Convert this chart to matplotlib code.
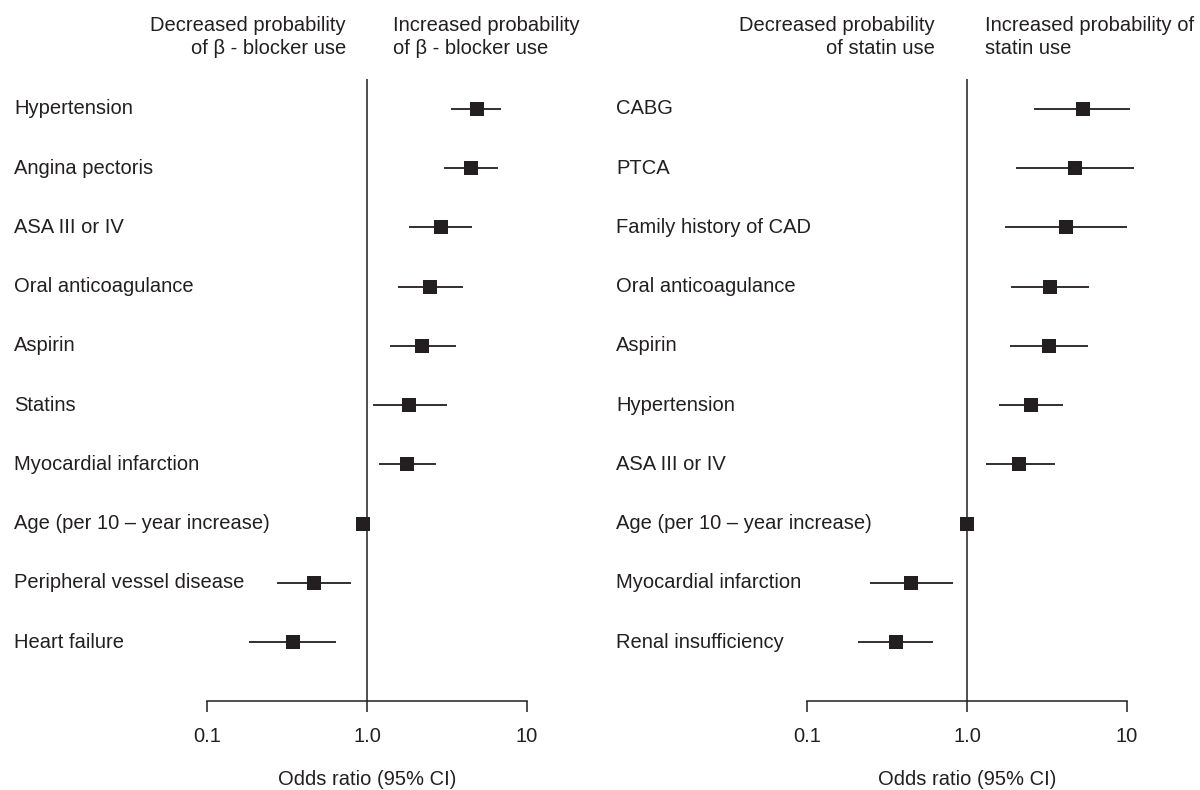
import matplotlib
matplotlib.use("Agg")
import matplotlib.pyplot as plt
import numpy as np

plt.rcParams['font.family'] = ['Liberation Sans', 'DejaVu Sans']

# Left panel: beta-blocker use
bb_labels = ["Hypertension", "Angina pectoris", "ASA III or IV", "Oral anticoagulance",
             "Aspirin", "Statins", "Myocardial infarction", "Age (per 10 – year increase)",
             "Peripheral vessel disease", "Heart failure"]
bb_or = [4.86, 4.48, 2.89, 2.49, 2.22, 1.84, 1.79, 0.94, 0.465, 0.344]
bb_lo = [3.36, 3.02, 1.82, 1.57, 1.39, 1.09, 1.19, 0.90, 0.272, 0.182]
bb_hi = [6.92, 6.61, 4.50, 3.99, 3.59, 3.15, 2.68, 0.98, 0.80, 0.642]

# Right panel: statin use
st_labels = ["CABG", "PTCA", "Family history of CAD", "Oral anticoagulance", "Aspirin",
             "Hypertension", "ASA III or IV", "Age (per 10 – year increase)",
             "Myocardial infarction", "Renal insufficiency"]
st_or = [5.29, 4.73, 4.14, 3.32, 3.27, 2.51, 2.11, 1.00, 0.447, 0.358]
st_lo = [2.62, 2.02, 1.72, 1.88, 1.87, 1.58, 1.31, 0.97, 0.246, 0.209]
st_hi = [10.4, 11.1, 9.95, 5.79, 5.68, 3.98, 3.55, 1.03, 0.82, 0.61]

tick_vals = [0.1, 1.0, 10]
tick_labels = ["0.1", "1.0", "10"]

W, H = 1200, 790
fig = plt.figure(figsize=(12, 7.9), dpi=100)
col = "#231f20"
fs = 14.5


def panel(x0px, labels, ors, los, his, label_x, hdr_left, hdr_right, hdr_lx, hdr_rx):
    left = x0px / W
    width = 320 / W
    bottom = 1 - 701 / H
    top = 1 - 79 / H
    ax = fig.add_axes([left, bottom, width, top - bottom])
    ax.set_xscale('log')
    ax.set_xlim(0.1, 10)
    n = len(labels)
    ax.set_ylim(n - 0.005, -0.506)
    ys = np.arange(n)
    for s in ['top', 'right', 'left']:
        ax.spines[s].set_visible(False)
    ax.spines['bottom'].set_color(col)
    ax.spines['bottom'].set_linewidth(1.1)
    ax.axvline(1.0, color=col, lw=1.1, zorder=1)
    ors = np.array(ors); los = np.array(los); his = np.array(his)
    ax.hlines(ys, los, his, color=col, lw=1.3, zorder=2, clip_on=False)
    ax.plot(ors, ys, 's', color=col, markersize=10.6, zorder=3, markeredgewidth=0, clip_on=False)
    ax.set_yticks([])
    ax.set_xticks(tick_vals)
    ax.set_xticklabels(tick_labels, fontsize=fs, color=col)
    ax.xaxis.set_minor_locator(matplotlib.ticker.NullLocator())
    ax.tick_params(axis='x', direction='out', length=8, width=1.1, color=col, pad=11)
    ax.set_xlabel("Odds ratio (95% CI)", fontsize=fs, color=col, labelpad=17)
    for y, lab in zip(ys, labels):
        ax.text(label_x / W, y, lab, transform=matplotlib.transforms.blended_transform_factory(fig.transFigure, ax.transData),
                ha='left', va='center', fontsize=fs, color=col)
    fig.text(hdr_lx / W, 1 - 37 / H, hdr_left, ha='right', va='center', fontsize=fs,
             color=col, linespacing=1.3, multialignment='right')
    fig.text(hdr_rx / W, 1 - 37 / H, hdr_right, ha='left', va='center', fontsize=fs,
             color=col, linespacing=1.3, multialignment='left')
    return ax


panel(207, bb_labels, bb_or, bb_lo, bb_hi, 14,
      "Decreased probability\nof β - blocker use", "Increased probability\nof β - blocker use",
      346, 393)
panel(807, st_labels, st_or, st_lo, st_hi, 616,
      "Decreased probability\nof statin use", "Increased probability of\nstatin use",
      935, 985)

fig.savefig("out.png", dpi=100, facecolor='white')
